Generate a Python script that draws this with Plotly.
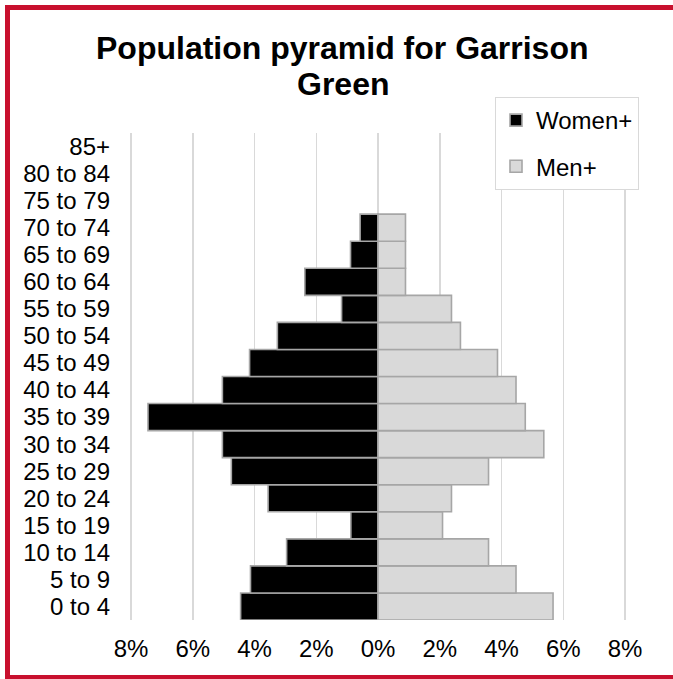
import plotly.graph_objects as go

age_groups = ["0 to 4", "5 to 9", "10 to 14", "15 to 19", "20 to 24", "25 to 29",
              "30 to 34", "35 to 39", "40 to 44", "45 to 49", "50 to 54", "55 to 59",
              "60 to 64", "65 to 69", "70 to 74", "75 to 79", "80 to 84", "85+"]
women_pct = [4.45, 4.13, 2.96, 0.88, 3.56, 4.75, 5.04, 7.45, 5.04, 4.16, 3.26, 1.18,
             2.37, 0.89, 0.58, 0, 0, 0]
men_pct = [5.67, 4.47, 3.58, 2.09, 2.38, 3.58, 5.37, 4.77, 4.47, 3.87, 2.67, 2.38,
           0.89, 0.89, 0.89, 0, 0, 0]
tick_vals = [-8, -6, -4, -2, 0, 2, 4, 6, 8]
tick_text = ["8%", "6%", "4%", "2%", "0%", "2%", "4%", "6%", "8%"]
title_lines = ["Population pyramid for Garrison", "Green"]

W, H = 673, 679
ML, MR, MT, MB = 129, 46, 133, 59
PW, PH = W - ML - MR, H - MT - MB
XMAX = 8 * PW / 494.0


def px_x(px):
    return (px - ML) / PW


def px_y(py):
    return (H - MB - py) / PH


fig = go.Figure()
fig.add_trace(go.Bar(
    y=age_groups, x=[-v if v else None for v in women_pct], orientation="h",
    name="Women+", legendgroup="w",
    marker=dict(color="#000000", line=dict(color="#a6a6a6", width=1.6)),
    hoverinfo="skip"))
fig.add_trace(go.Bar(
    y=age_groups, x=[v if v else None for v in men_pct], orientation="h",
    name="Men+", legendgroup="m",
    marker=dict(color="#d9d9d9", line=dict(color="#a6a6a6", width=1.6)),
    hoverinfo="skip"))

fig.update_layout(
    width=W, height=H,
    margin=dict(l=ML, r=MR, t=MT, b=MB, autoexpand=False),
    paper_bgcolor="white", plot_bgcolor="white",
    barmode="overlay", bargap=0,
    font=dict(family="Liberation Sans, Arial, sans-serif", size=24, color="#000000"),
    xaxis=dict(range=[-XMAX, XMAX], tickmode="array", tickvals=tick_vals,
               ticktext=tick_text,
               showgrid=True, gridcolor="#d9d9d9", gridwidth=1.5,
               zeroline=False, showline=False, ticks="",
               ticklabelstandoff=12, fixedrange=True),
    yaxis=dict(categoryorder="array", categoryarray=age_groups,
               tickmode="array", tickvals=age_groups,
               showgrid=False, zeroline=False, showline=False, ticks="",
               ticklabelstandoff=18, fixedrange=True),
    legend=dict(x=px_x(495), y=px_y(97), xanchor="left", yanchor="top",
                bordercolor="#d9d9d9", borderwidth=1, bgcolor="white",
                traceorder="grouped", tracegroupgap=12,
                font=dict(size=24), itemclick=False),
    annotations=[
        dict(text="<b>%s</b>" % title_lines[0], xref="paper", yref="paper",
             x=px_x(342), y=px_y(47.5), xanchor="center", yanchor="middle",
             showarrow=False, font=dict(size=32, color="#000000")),
        dict(text="<b>%s</b>" % title_lines[1], xref="paper", yref="paper",
             x=px_x(343), y=px_y(83.5), xanchor="center", yanchor="middle",
             showarrow=False, font=dict(size=32, color="#000000")),
    ],
    shapes=[dict(type="rect", xref="paper", yref="paper",
                 x0=px_x(7.5), x1=px_x(720), y0=px_y(677.5), y1=px_y(7.5),
                 line=dict(color="#c8102e", width=5), layer="above")],
)

fig.write_html("out.html",
               config={"displayModeBar": False, "staticPlot": True},
               post_script="document.body.style.margin='0';document.body.style.overflow='hidden';")
